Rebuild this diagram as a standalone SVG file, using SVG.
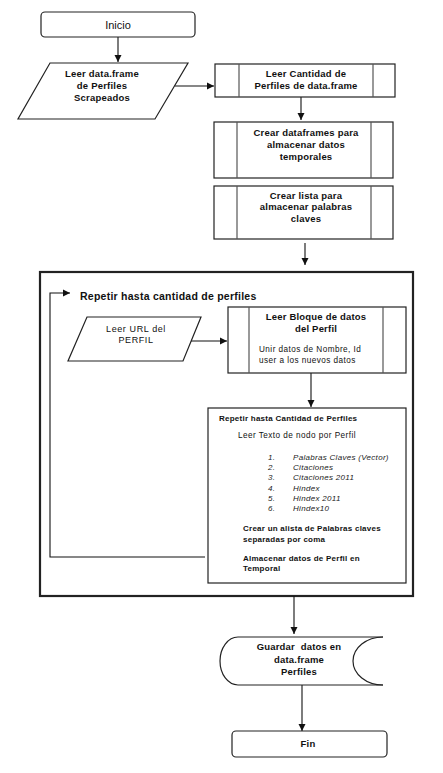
<svg xmlns="http://www.w3.org/2000/svg" width="443" height="773" viewBox="0 0 443 773">
<defs>
<marker id="ah" markerWidth="8" markerHeight="8" refX="7" refY="4" orient="auto" markerUnits="userSpaceOnUse">
<path d="M0,0.5 L7,4 L0,7.5 z" fill="#111"/>
</marker>
<style>
.s{fill:#fff;stroke:#222;stroke-width:1.2}
.il{stroke:#555;stroke-width:1.2}
.c{fill:none;stroke:#111;stroke-width:1.1}
text{font-family:"Liberation Sans",Arial,sans-serif;fill:#111}
.b{font-weight:bold;font-size:9.5px;letter-spacing:0.2px}
.m{text-anchor:middle}
.sm{font-size:8.2px;letter-spacing:0.45px}
.sb{font-size:8px;font-weight:bold;letter-spacing:0.25px}
.it{font-style:italic;font-size:8px;letter-spacing:0.3px;fill:#222}
</style>
</defs>
<rect width="443" height="773" fill="#fff"/>
<g id="loop">
<rect x="40" y="272" width="373" height="324" fill="none" stroke="#222" stroke-width="2.2"/>
</g>
<g id="connectors">
<path class="c" d="M118,37 V62" marker-end="url(#ah)"/>
<path class="c" d="M175,86 H214" marker-end="url(#ah)"/>
<path class="c" d="M301,97 V120" marker-end="url(#ah)"/>
<path class="c" d="M305,243 V265" marker-end="url(#ah)"/>
<path class="c" d="M205,557 H50 V293 H70" marker-end="url(#ah)"/>
<path class="c" d="M184,341 H227" marker-end="url(#ah)"/>
<path class="c" d="M311,373 V407" marker-end="url(#ah)"/>
<path class="c" d="M294,596 V634" marker-end="url(#ah)"/>
<path class="c" d="M302,685 V731" marker-end="url(#ah)"/>
</g>
<g id="inicio">
<rect class="s" x="41" y="12" width="154" height="25" rx="4"/>
<text class="m" x="118" y="29" font-size="11">Inicio</text>
</g>
<g id="leer-dataframe">
<polygon class="s" points="50,63 188,63 155,119 18,119"/>
<text class="b m" x="102" y="77">Leer data.frame</text>
<text class="b m" x="102" y="89">de Perfiles</text>
<text class="b m" x="102" y="101">Scrapeados</text>
</g>
<g id="leer-cantidad">
<rect class="s" x="215" y="64" width="180" height="33"/>
<line class="il" x1="239" y1="64" x2="239" y2="97"/>
<line class="il" x1="373" y1="64" x2="373" y2="97"/>
<text class="b m" x="306" y="77">Leer Cantidad de</text>
<text class="b m" x="306" y="89">Perfiles de data.frame</text>
</g>
<g id="crear-dataframes">
<rect class="s" x="214" y="122" width="179" height="56"/>
<line class="il" x1="237" y1="122" x2="237" y2="178"/>
<line class="il" x1="371" y1="122" x2="371" y2="178"/>
<text class="b m" x="306" y="136">Crear dataframes para</text>
<text class="b m" x="306" y="148">almacenar datos</text>
<text class="b m" x="306" y="160">temporales</text>
</g>
<g id="crear-lista">
<rect class="s" x="214" y="186" width="179" height="53"/>
<line class="il" x1="237" y1="186" x2="237" y2="239"/>
<line class="il" x1="371" y1="186" x2="371" y2="239"/>
<text class="b m" x="306" y="199">Crear lista para</text>
<text class="b m" x="306" y="210">almacenar palabras</text>
<text class="b m" x="306" y="222">claves</text>
</g>
<g id="repetir-label">
<text x="80" y="300" font-weight="bold" font-size="10.5" letter-spacing="0.25">Repetir hasta cantidad de perfiles</text>
</g>
<g id="leer-url">
<polygon class="s" points="87,317 201,317 183,361 68,361"/>
<text class="m" x="136" y="332" font-size="9" letter-spacing="0.6">Leer URL del</text>
<text class="m" x="136" y="343" font-size="9" letter-spacing="0.6">PERFIL</text>
</g>
<g id="leer-bloque">
<rect class="s" x="228" y="307" width="178" height="66"/>
<line class="il" x1="249" y1="307" x2="249" y2="373"/>
<line class="il" x1="383" y1="307" x2="383" y2="373"/>
<text class="b m" x="316" y="320" font-size="10.2">Leer Bloque de datos</text>
<text class="b m" x="316" y="332" font-size="10.2">del Perfil</text>
<text class="sm" x="259" y="352">Unir datos de Nombre, Id</text>
<text class="sm" x="259" y="363">user a los nuevos datos</text>
</g>
<g id="repetir-perfiles">
<rect class="s" x="208" y="408" width="198" height="175"/>
<text class="sb" x="219" y="421">Repetir hasta Cantidad de Perfiles</text>
<text class="sm" x="238" y="438">Leer Texto de nodo por Perfil</text>
<text class="it" x="268" y="460">1.</text><text class="it" x="293" y="460">Palabras Claves (Vector)</text>
<text class="it" x="268" y="470">2.</text><text class="it" x="293" y="470">Citaciones</text>
<text class="it" x="268" y="480">3.</text><text class="it" x="293" y="480">Citaciones 2011</text>
<text class="it" x="268" y="491">4.</text><text class="it" x="293" y="491">Hindex</text>
<text class="it" x="268" y="501">5.</text><text class="it" x="293" y="501">Hindex 2011</text>
<text class="it" x="268" y="511">6.</text><text class="it" x="293" y="511">Hindex10</text>
<text class="sb" x="243" y="531">Crear un alista de Palabras claves</text>
<text class="sb" x="243" y="542">separadas por coma</text>
<text class="sb" x="243" y="561">Almacenar datos de Perfil en</text>
<text class="sb" x="243" y="571">Temporal</text>
</g>
<g id="guardar">
<path class="s" d="M383,637 H238 A18,24 0 0 0 238,685 H383"/>
<path class="s" d="M383,637 A30,24 0 0 0 383,685" style="fill:none"/>
<text class="b m" x="299" y="650" xml:space="preserve">Guardar  datos en</text>
<text class="b m" x="299" y="663">data.frame</text>
<text class="b m" x="299" y="675">Perfiles</text>
</g>
<g id="fin">
<rect class="s" x="232" y="731" width="155" height="26" rx="4"/>
<text class="b m" x="308" y="747" font-size="10">Fin</text>
</g>
</svg>
